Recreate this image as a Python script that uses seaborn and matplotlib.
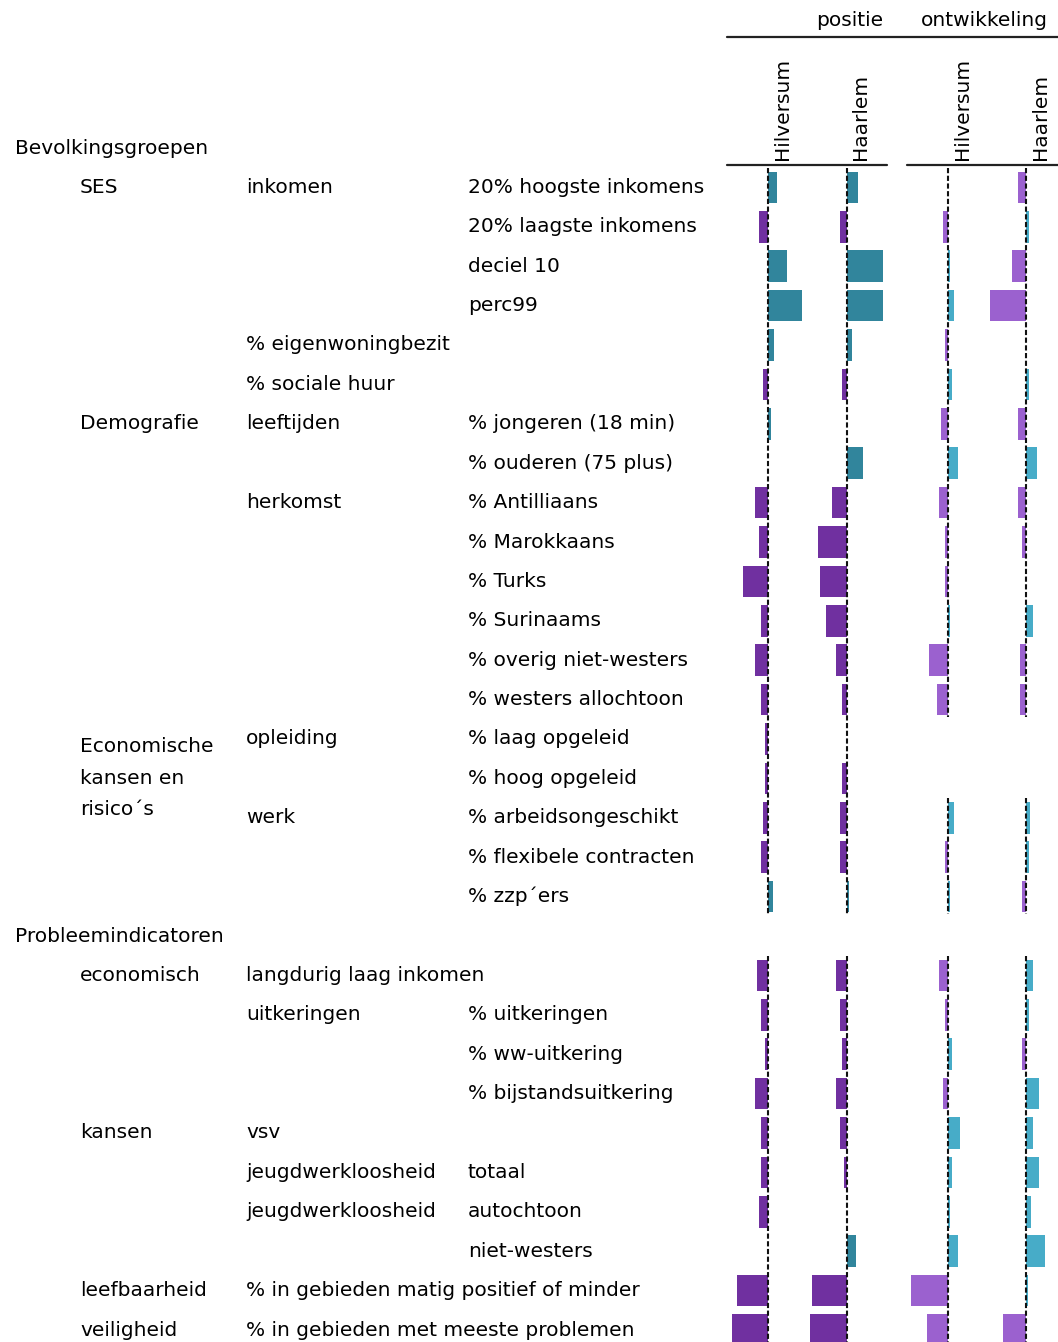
import numpy as np
import pandas as pd
import matplotlib
matplotlib.use("Agg")
import matplotlib.pyplot as plt
import seaborn as sns

# ---- table text, one entry per table row (31 rows, two of them section headers)
sections = ["Bevolkingsgroepen"] + [""] * 19 + ["Probleemindicatoren"] + [""] * 10

groups = ["", "SES", "", "", "", "", "", "Demografie", "", "", "", "", "", "", "",
          "Economische\nkansen en\nrisico´s", "", "", "", "", "",
          "economisch", "", "", "", "kansen", "", "", "", "leefbaarheid", "veiligheid"]

subgroups = ["", "inkomen", "", "", "", "% eigenwoningbezit", "% sociale huur",
             "leeftijden", "", "herkomst", "", "", "", "", "", "opleiding", "", "werk",
             "", "", "", "langdurig laag inkomen", "uitkeringen", "", "", "vsv",
             "jeugdwerkloosheid", "jeugdwerkloosheid", "",
             "% in gebieden matig positief of minder", "% in gebieden met meeste problemen"]

indicators = ["", "20% hoogste inkomens", "20% laagste inkomens", "deciel 10", "perc99",
              "", "", "% jongeren (18 min)", "% ouderen (75 plus)", "% Antilliaans",
              "% Marokkaans", "% Turks", "% Surinaams", "% overig niet-westers",
              "% westers allochtoon", "% laag opgeleid", "% hoog opgeleid",
              "% arbeidsongeschikt", "% flexibele contracten", "% zzp´ers", "", "",
              "% uitkeringen", "% ww-uitkering", "% bijstandsuitkering", "", "totaal",
              "autochtoon", "niet-westers", "", ""]

# rows that carry a bar (1-19 and 21-30)
data_rows = list(range(1, 20)) + list(range(21, 31))

# ---- scores, same order as data_rows
pos_hilversum = [0.45, -0.45, 0.95, 1.7, 0.3, -0.25, 0.15, 0, -0.65, -0.45, -1.25, -0.35,
                 -0.65, -0.35, -0.15, -0.15, -0.25, -0.35, 0.25,
                 -0.55, -0.35, -0.15, -0.65, -0.35, -0.35, -0.45, 0, -1.55, -1.8]
pos_haarlem = [0.55, -0.35, 1.8, 1.8, 0.25, -0.25, 0, 0.8, -0.75, -1.45, -1.35, -1.05,
               -0.55, -0.25, 0, -0.25, -0.35, -0.35, 0.1,
               -0.55, -0.35, -0.25, -0.55, -0.35, -0.15, 0, 0.45, -1.75, -1.85]
ont_hilversum = [0, -0.25, 0.1, 0.3, -0.15, 0.2, -0.35, 0.5, -0.45, -0.15, -0.15, 0.1,
                 -0.95, -0.55, np.nan, np.nan, 0.3, -0.15, 0.1,
                 -0.45, -0.15, 0.2, -0.25, 0.6, 0.2, 0.1, 0.5, -1.85, -1.05]
ont_haarlem = [-0.4, 0.15, -0.7, -1.8, 0, 0.15, -0.4, 0.55, -0.4, -0.2, 0, 0.35,
               -0.3, -0.3, np.nan, np.nan, 0.2, 0.15, -0.2,
               0.35, 0.15, -0.2, 0.65, 0.35, 0.65, 0.25, 0.95, 0.1, -1.15]

W, H = 1058, 1342
TOP, STEP = 148, 39.4          # pixel y of row 0 and row spacing


def row_y(r):
    return TOP + STEP * r


sns.set_style("white")
plt.rcParams["font.family"] = ["DejaVu Sans"]
plt.rcParams["text.color"] = "black"
FS = 14.5

fig = plt.figure(figsize=(W / 100, H / 100), dpi=100)

# background axes in pixel units for the table text and rules
bg = fig.add_axes([0, 0, 1, 1])
bg.set_xlim(0, W)
bg.set_ylim(H, 0)
bg.axis("off")

for r in range(len(sections)):
    y = row_y(r)
    if sections[r]:
        bg.text(15, y, sections[r], fontsize=FS, va="center", ha="left")
    if groups[r]:
        if "\n" in groups[r]:
            # three-line label, middle line sits on the next row
            bg.text(80, y + 39, groups[r], fontsize=FS, va="center", ha="left",
                    linespacing=1.85)
        else:
            bg.text(80, y, groups[r], fontsize=FS, va="center", ha="left")
    if subgroups[r]:
        bg.text(246, y, subgroups[r], fontsize=FS, va="center", ha="left")
    if indicators[r]:
        bg.text(468, y, indicators[r], fontsize=FS, va="center", ha="left")

# header rules and titles
bg.plot([727, W], [37, 37], color="#222222", lw=1.6)
bg.plot([727, 887], [165, 165], color="#222222", lw=1.6)
bg.plot([907, W], [165, 165], color="#222222", lw=1.6)
bg.text(850, 20, "positie", fontsize=FS, ha="center", va="center")
bg.text(984, 20, "ontwikkeling", fontsize=FS, ha="center", va="center")

# ---- the four bar columns
pal_pos = {"neg": "#7030A0", "pos": "#31859C"}
pal_ont = {"neg": "#9B61CF", "pos": "#47ACC8"}
columns = [
    ("Hilversum", pos_hilversum, pal_pos, 728, 80, (-2, 2)),
    ("Haarlem", pos_haarlem, pal_pos, 807, 80, (-2, 2)),
    ("Hilversum", ont_hilversum, pal_ont, 908, 80, (-2, 2)),
    ("Haarlem", ont_haarlem, pal_ont, 986, 72, (-2, 1.6)),
]

ylim = ((H - TOP) / STEP, -TOP / STEP)

for city, vals, pal, left, width, xlim in columns:
    ax = fig.add_axes([left / W, 0, width / W, 1])
    ax.patch.set_alpha(0)
    df = pd.DataFrame({"row": data_rows, "value": vals}).dropna()
    df["sign"] = np.where(df["value"] < 0, "neg", "pos")
    sns.barplot(data=df, x="value", y="row", hue="sign", palette=pal, orient="h",
                native_scale=True, dodge=False, legend=False, width=0.8,
                saturation=1, linewidth=0, ax=ax, zorder=2)
    ax.set_xlim(*xlim)
    ax.set_ylim(*ylim)
    ax.axis("off")

    # dashed zero line over every run of consecutive rows that has data
    rows = df["row"].tolist()
    start = rows[0]
    for i in range(1, len(rows) + 1):
        if i == len(rows) or rows[i] != rows[i - 1] + 1:
            ax.plot([0, 0], [start - 0.5, rows[i - 1] + 0.45], color="#111111",
                    lw=1.5, dashes=(2.5, 1.2), zorder=3)
            if i < len(rows):
                start = rows[i]

    # rotated city label, just right of the zero line
    zero_px = left + width * (0 - xlim[0]) / (xlim[1] - xlim[0])
    bg.text(zero_px + 14, 160, city, fontsize=FS, rotation=90, ha="center", va="bottom")

fig.savefig("out.png", dpi=100)
